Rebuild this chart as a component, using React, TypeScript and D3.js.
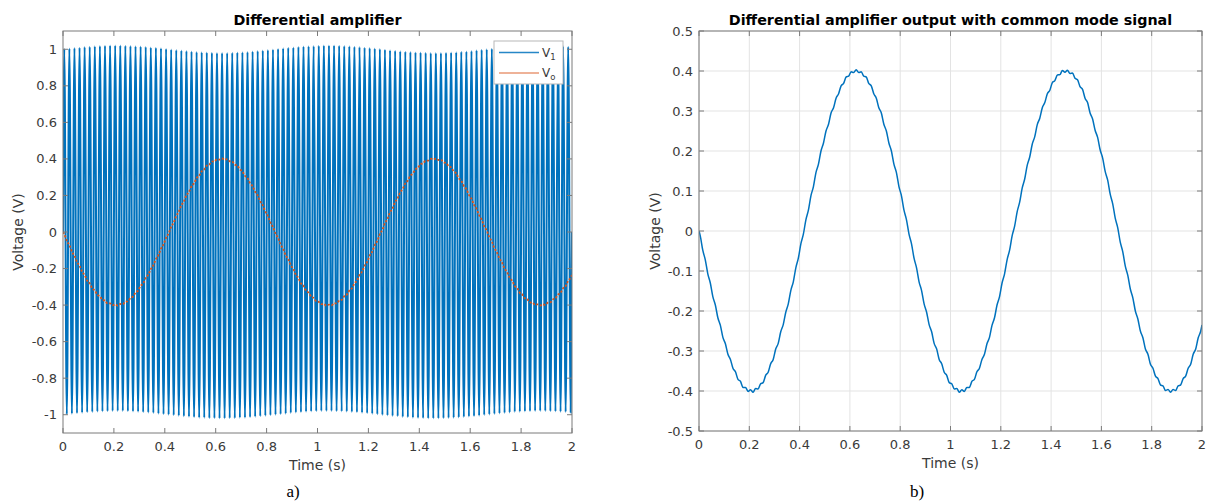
import React from 'react';
import * as d3 from 'd3';

// ---------- data ----------
const timeTicks = [0, 0.2, 0.4, 0.6, 0.8, 1, 1.2, 1.4, 1.6, 1.8, 2];
const leftYTicks = [-1, -0.8, -0.6, -0.4, -0.2, 0, 0.2, 0.4, 0.6, 0.8, 1];
const rightYTicks = [-0.5, -0.4, -0.3, -0.2, -0.1, 0, 0.1, 0.2, 0.3, 0.4, 0.5];

// V1: 50 Hz input (one peak and one trough per 0.02 s cycle), envelope
const v1FirstPeakTime = 0.005;
const v1CyclePeriod = 0.02;
const v1Start = 0;
const v1End = 0;
const v1Peaks = [
  1.001, 1.004, 1.007, 1.009, 1.012, 1.014, 1.016, 1.018, 1.019, 1.02,
  1.02, 1.02, 1.019, 1.018, 1.017, 1.015, 1.013, 1.01, 1.008, 1.005,
  1.002, 0.999, 0.996, 0.993, 0.99, 0.988, 0.985, 0.984, 0.982, 0.981,
  0.98, 0.98, 0.98, 0.981, 0.982, 0.984, 0.985, 0.988, 0.99, 0.993,
  0.996, 0.999, 1.002, 1.005, 1.008, 1.01, 1.013, 1.015, 1.017, 1.018,
  1.019, 1.02, 1.02, 1.02, 1.019, 1.018, 1.016, 1.014, 1.012, 1.009,
  1.007, 1.004, 1.001, 0.998, 0.995, 0.992, 0.989, 0.987, 0.985, 0.983,
  0.982, 0.981, 0.98, 0.98, 0.98, 0.981, 0.982, 0.984, 0.986, 0.988,
  0.991, 0.994, 0.997, 1.0, 1.003, 1.006, 1.009, 1.011, 1.014, 1.016,
  1.017, 1.019, 1.019, 1.02, 1.02, 1.019, 1.019, 1.017, 1.016, 1.014,
];
const v1Troughs = [
  -0.998, -0.995, -0.992, -0.989, -0.987, -0.985, -0.983, -0.982, -0.981, -0.98,
  -0.98, -0.98, -0.981, -0.982, -0.984, -0.986, -0.988, -0.991, -0.994, -0.997,
  -1.0, -1.003, -1.006, -1.009, -1.011, -1.014, -1.016, -1.017, -1.019, -1.019,
  -1.02, -1.02, -1.019, -1.019, -1.017, -1.016, -1.014, -1.011, -1.009, -1.006,
  -1.003, -1.0, -0.997, -0.994, -0.991, -0.988, -0.986, -0.984, -0.982, -0.981,
  -0.98, -0.98, -0.98, -0.981, -0.982, -0.983, -0.985, -0.987, -0.989, -0.992,
  -0.995, -0.998, -1.001, -1.004, -1.007, -1.009, -1.012, -1.014, -1.016, -1.018,
  -1.019, -1.02, -1.02, -1.02, -1.019, -1.018, -1.017, -1.015, -1.013, -1.01,
  -1.008, -1.005, -1.002, -0.999, -0.996, -0.993, -0.99, -0.988, -0.985, -0.984,
  -0.982, -0.981, -0.98, -0.98, -0.98, -0.981, -0.982, -0.984, -0.985, -0.988,
];

// Vo: output with 50 Hz common-mode ripple, sampled every 0.01 s from t = 0.005
const voFirstTime = 0.005;
const voSampleStep = 0.01;
const voStart = 0;
const voEnd = -0.235;
const voSamples = [
  -0.012, -0.048, -0.072, -0.107, -0.13, -0.164, -0.185, -0.217, -0.236, -0.266,
  -0.282, -0.308, -0.321, -0.343, -0.352, -0.371, -0.376, -0.391, -0.391, -0.401,
  -0.397, -0.403, -0.394, -0.395, -0.382, -0.379, -0.361, -0.353, -0.332, -0.321,
  -0.295, -0.281, -0.252, -0.234, -0.203, -0.182, -0.149, -0.127, -0.092, -0.068,
  -0.032, -0.008, 0.028, 0.052, 0.088, 0.111, 0.146, 0.167, 0.2, 0.22,
  0.25, 0.267, 0.295, 0.308, 0.332, 0.343, 0.363, 0.369, 0.385, 0.387,
  0.398, 0.396, 0.403, 0.396, 0.398, 0.387, 0.385, 0.369, 0.363, 0.343,
  0.332, 0.308, 0.295, 0.267, 0.25, 0.22, 0.2, 0.167, 0.146, 0.111,
  0.088, 0.052, 0.028, -0.008, -0.032, -0.068, -0.092, -0.127, -0.149, -0.182,
  -0.203, -0.234, -0.252, -0.281, -0.295, -0.321, -0.332, -0.353, -0.361, -0.379,
  -0.382, -0.395, -0.394, -0.403, -0.397, -0.401, -0.391, -0.391, -0.376, -0.371,
  -0.352, -0.343, -0.321, -0.308, -0.282, -0.266, -0.236, -0.217, -0.185, -0.164,
  -0.13, -0.107, -0.072, -0.048, -0.012, 0.012, 0.048, 0.072, 0.107, 0.13,
  0.164, 0.185, 0.217, 0.236, 0.266, 0.282, 0.308, 0.321, 0.343, 0.352,
  0.371, 0.376, 0.39, 0.391, 0.401, 0.397, 0.402, 0.394, 0.395, 0.382,
  0.378, 0.361, 0.354, 0.332, 0.321, 0.295, 0.28, 0.252, 0.234, 0.203,
  0.182, 0.149, 0.127, 0.092, 0.068, 0.032, 0.008, -0.028, -0.052, -0.088,
  -0.111, -0.145, -0.167, -0.2, -0.22, -0.25, -0.267, -0.295, -0.308, -0.333,
  -0.343, -0.363, -0.369, -0.385, -0.387, -0.399, -0.396, -0.403, -0.396, -0.399,
  -0.387, -0.385, -0.369, -0.363, -0.343, -0.333, -0.308, -0.295, -0.267, -0.25,
];

const leftTitle = 'Differential amplifier';
const rightTitle = 'Differential amplifier output with common mode signal';
const xLabel = 'Time (s)';
const yLabel = 'Voltage (V)';
const legendNames = [
  { base: 'V', sub: '1' },
  { base: 'V', sub: 'o' },
];

// ---------- build point lists ----------
type Pt = [number, number];
const timeEnd = timeTicks[timeTicks.length - 1];

const v1Points: Pt[] = [[0, v1Start]];
v1Peaks.forEach((p, i) => {
  const t = v1FirstPeakTime + i * v1CyclePeriod;
  v1Points.push([t, p]);
  v1Points.push([t + v1CyclePeriod / 2, v1Troughs[i]]);
});
v1Points.push([timeEnd, v1End]);

const voPoints: Pt[] = [[0, voStart]];
voSamples.forEach((v, i) => voPoints.push([voFirstTime + i * voSampleStep, v]));
voPoints.push([timeEnd, voEnd]);

// ---------- styling ----------
const FONT = 'DejaVu Sans, sans-serif';
const AXIS_COLOR = '#7a7a7a';
const TEXT_COLOR = '#3a3a3a';
const BLUE = '#0072BD';
const ORANGE = '#D95319';
const TICK_LEN = 5;

const fmt = (v: number) => String(+v.toFixed(2));

function Grid({ x, y, xTicks, yTicks }: any) {
  const [x0, x1] = x.range();
  const [y0, y1] = y.range();
  return (
    <g>
      {xTicks.map((t: number) => (
        <line key={'gx' + t} x1={x(t)} x2={x(t)} y1={y0} y2={y1} stroke="#e3e3e3" strokeWidth={1} />
      ))}
      {yTicks.map((t: number) => (
        <line key={'gy' + t} x1={x0} x2={x1} y1={y(t)} y2={y(t)} stroke="#e3e3e3" strokeWidth={1} />
      ))}
    </g>
  );
}

function AxesOverlay({ x, y, xTicks, yTicks }: any) {
  const [x0, x1] = x.range();
  const [y0, y1] = y.range();
  return (
    <g>
      <rect x={x0} y={y1} width={x1 - x0} height={y0 - y1} fill="none" stroke={AXIS_COLOR} strokeWidth={1} />
      {xTicks.map((t: number) => (
        <g key={'tx' + t}>
          <line x1={x(t)} x2={x(t)} y1={y0} y2={y0 - TICK_LEN} stroke={AXIS_COLOR} />
          <line x1={x(t)} x2={x(t)} y1={y1} y2={y1 + TICK_LEN} stroke={AXIS_COLOR} />
        </g>
      ))}
      {yTicks.map((t: number) => (
        <g key={'ty' + t}>
          <line x1={x0} x2={x0 + TICK_LEN} y1={y(t)} y2={y(t)} stroke={AXIS_COLOR} />
          <line x1={x1} x2={x1 - TICK_LEN} y1={y(t)} y2={y(t)} stroke={AXIS_COLOR} />
        </g>
      ))}
    </g>
  );
}

function Labels({ x, y, xTicks, yTicks, title, yLabelX, captionText, captionX }: any) {
  const [x0, x1] = x.range();
  const [y0, y1] = y.range();
  const cx = (x0 + x1) / 2;
  const cy = (y0 + y1) / 2;
  return (
    <g fontFamily={FONT} fill={TEXT_COLOR}>
      {xTicks.map((t: number) => (
        <text key={'lx' + t} x={x(t)} y={y0 + 18} fontSize={13} textAnchor="middle">
          {fmt(t)}
        </text>
      ))}
      {yTicks.map((t: number) => (
        <text key={'ly' + t} x={x0 - 6} y={y(t) + 4.5} fontSize={13} textAnchor="end">
          {fmt(t)}
        </text>
      ))}
      <text x={cx} y={y0 + 37} fontSize={14} textAnchor="middle">
        {xLabel}
      </text>
      <text transform={`translate(${yLabelX},${cy}) rotate(-90)`} fontSize={14} textAnchor="middle">
        {yLabel}
      </text>
      <text x={cx} y={25} fontSize={14.3} fontWeight="bold" textAnchor="middle" fill="#000">
        {title}
      </text>
      <text x={captionX} y={497} fontSize={17} textAnchor="middle" fill="#000" fontFamily="Liberation Serif, serif">
        {captionText}
      </text>
    </g>
  );
}

export default function App() {
  // left panel
  const xL = d3.scaleLinear().domain([0, 2]).range([63, 572]);
  const yL = d3.scaleLinear().domain([-1.1, 1.1]).range([433, 31]);
  // right panel
  const xR = d3.scaleLinear().domain([0, 2]).range([699, 1202]);
  const yR = d3.scaleLinear().domain([-0.5, 0.5]).range([431, 31]);

  const lineL = d3
    .line<Pt>()
    .x((d) => xL(d[0]))
    .y((d) => yL(d[1]))
    .curve(d3.curveMonotoneX);
  const lineR = d3
    .line<Pt>()
    .x((d) => xR(d[0]))
    .y((d) => yR(d[1]))
    .curve(d3.curveMonotoneX);

  const legX = 494;
  const legY = 41;

  return (
    <svg
      width={1206}
      height={501}
      style={{ position: 'absolute', left: 0, top: 0, background: '#fff' }}
    >
      <rect width={1206} height={501} fill="#fff" />
      <defs>
        <clipPath id="clipL">
          <rect x={63} y={31} width={509} height={402} />
        </clipPath>
        <clipPath id="clipR">
          <rect x={699} y={31} width={503} height={400} />
        </clipPath>
      </defs>

      {/* left chart */}
      <g clipPath="url(#clipL)">
        <path d={lineL(v1Points) || ''} fill="none" stroke={BLUE} strokeWidth={2} />
        <path
          d={lineL(voPoints) || ''}
          fill="none"
          stroke={ORANGE}
          strokeWidth={1.8}
          strokeDasharray="2.2 1.6"
        />
      </g>
      <AxesOverlay x={xL} y={yL} xTicks={timeTicks} yTicks={leftYTicks} />
      <Labels
        x={xL}
        y={yL}
        xTicks={timeTicks}
        yTicks={leftYTicks}
        title={leftTitle}
        yLabelX={23}
        captionText="a)"
        captionX={293}
      />
      {/* legend */}
      <g fontFamily={FONT} fill={TEXT_COLOR}>
        <rect x={legX} y={legY} width={69} height={43} fill="#fff" stroke="#b8b8b8" strokeWidth={1} />
        {legendNames.map((n, i) => (
          <g key={n.sub}>
            <line
              x1={legX + 5}
              x2={legX + 45}
              y1={legY + 11.5 + i * 20.5}
              y2={legY + 11.5 + i * 20.5}
              stroke={i === 0 ? BLUE : ORANGE}
              strokeWidth={1.5}
              strokeOpacity={i === 0 ? 0.85 : 0.6}
            />
            <text x={legX + 48} y={legY + 15.5 + i * 20.5} fontSize={12}>
              {n.base}
              <tspan fontSize={8.5} dy={3}>
                {n.sub}
              </tspan>
            </text>
          </g>
        ))}
      </g>

      {/* right chart */}
      <Grid x={xR} y={yR} xTicks={timeTicks} yTicks={rightYTicks} />
      <g clipPath="url(#clipR)">
        <path d={lineR(voPoints) || ''} fill="none" stroke={BLUE} strokeWidth={1.5} />
      </g>
      <AxesOverlay x={xR} y={yR} xTicks={timeTicks} yTicks={rightYTicks} />
      <Labels
        x={xR}
        y={yR}
        xTicks={timeTicks}
        yTicks={rightYTicks}
        title={rightTitle}
        yLabelX={660}
        captionText="b)"
        captionX={917}
      />
    </svg>
  );
}
